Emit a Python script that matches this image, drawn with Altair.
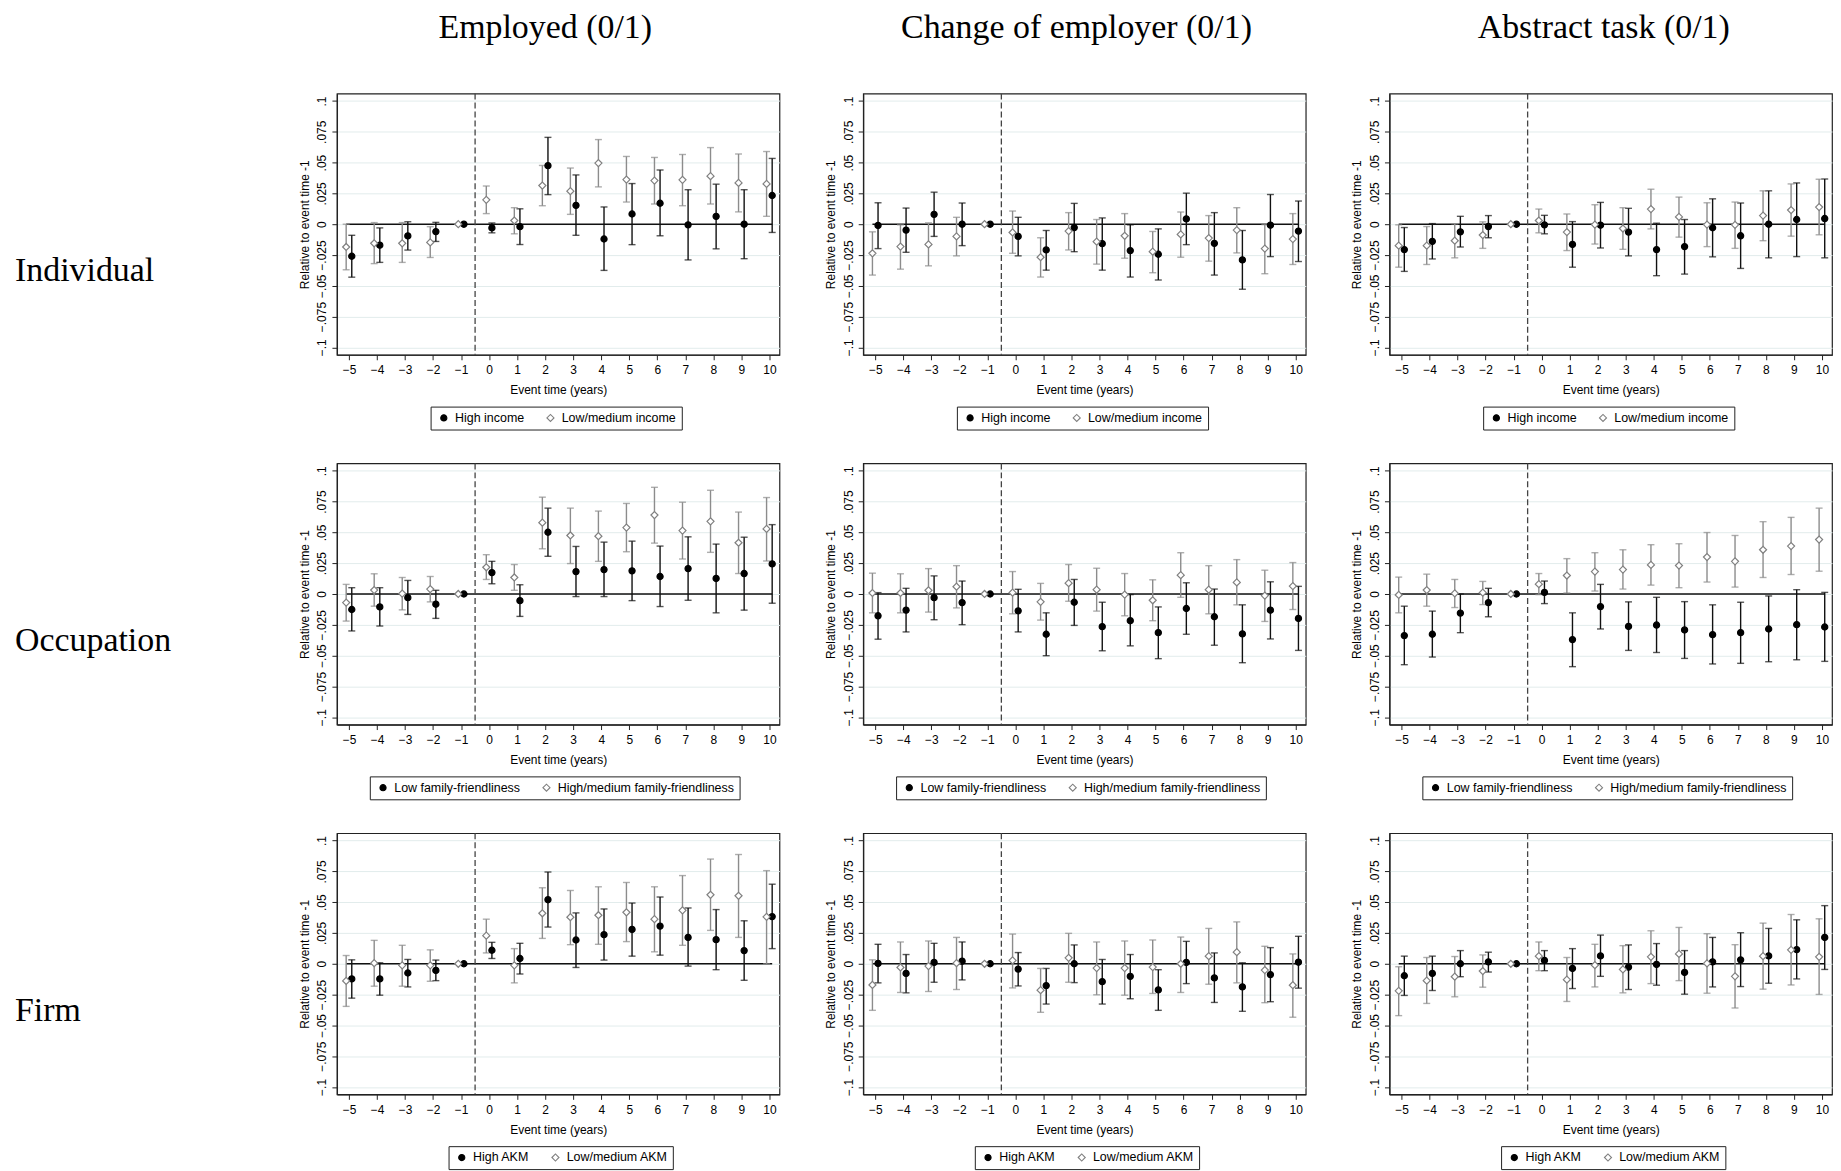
import altair as alt
import pandas as pd

event_time = list(range(-5, 11))
y_ticks = [-0.1, -0.075, -0.05, -0.025, 0, 0.025, 0.05, 0.075, 0.1]
col_titles = ["Employed (0/1)", "Change of employer (0/1)", "Abstract task (0/1)"]
row_labels = ["Individual", "Occupation", "Firm"]
legend_labels = [
    ["High income", "Low/medium income"],
    ["Low family-friendliness", "High/medium family-friendliness"],
    ["High AKM", "Low/medium AKM"],
]

# ---------------- Row 1: Individual ----------------
emp_ind_a_est = [-0.026, -0.017, -0.0095, -0.006, 0, -0.003, -0.002, 0.0475, 0.0153, -0.012, 0.0083, 0.017, -0.0005, 0.0064, 0.0, 0.0233]
emp_ind_a_lo = [-0.043, -0.031, -0.021, -0.014, 0, -0.007, -0.0165, 0.024, -0.009, -0.0375, -0.0166, -0.0094, -0.029, -0.020, -0.028, -0.0067]
emp_ind_a_hi = [-0.009, -0.003, 0.002, 0.0015, 0, 0.001, 0.0125, 0.0705, 0.040, 0.014, 0.033, 0.044, 0.028, 0.0325, 0.028, 0.0534]
emp_ind_b_est = [-0.0185, -0.0155, -0.0155, -0.0148, 0, 0.0198, 0.003, 0.0314, 0.0268, 0.0496, 0.0362, 0.0354, 0.036, 0.039, 0.0335, 0.0327]
emp_ind_b_lo = [-0.037, -0.032, -0.031, -0.027, 0, 0.0086, -0.0078, 0.015, 0.008, 0.0303, 0.018, 0.0164, 0.015, 0.0164, 0.010, 0.0064]
emp_ind_b_hi = [0.0, 0.0013, 0.0013, -0.002, 0, 0.031, 0.0134, 0.0477, 0.0456, 0.0687, 0.055, 0.0542, 0.0566, 0.0622, 0.057, 0.059]

chg_ind_a_est = [-0.001, -0.0048, 0.008, 0.0, 0, -0.0099, -0.0209, -0.0027, -0.0158, -0.0214, -0.0244, 0.0043, -0.0155, -0.029, -0.0008, -0.0056]
chg_ind_a_lo = [-0.0198, -0.0228, -0.0099, -0.0174, 0, -0.0257, -0.0373, -0.0223, -0.0373, -0.0429, -0.0453, -0.0166, -0.0413, -0.0528, -0.0263, -0.0303]
chg_ind_a_hi = [0.0174, 0.0131, 0.026, 0.0172, 0, 0.0056, -0.0051, 0.0169, 0.0051, -0.0005, -0.0038, 0.0252, 0.0094, -0.0051, 0.0241, 0.0188]
chg_ind_b_est = [-0.0236, -0.0182, -0.0164, -0.0099, 0, -0.0067, -0.0268, -0.0056, -0.0142, -0.0094, -0.0223, -0.0083, -0.0113, -0.0048, -0.0198, -0.0121]
chg_ind_b_lo = [-0.0413, -0.0365, -0.0338, -0.0257, 0, -0.0236, -0.0429, -0.0209, -0.0324, -0.0276, -0.0394, -0.0268, -0.030, -0.0233, -0.0402, -0.0327]
chg_ind_b_hi = [-0.0062, -0.0005, 0.0011, 0.0056, 0, 0.0107, -0.011, 0.0094, 0.0038, 0.0086, -0.0059, 0.0099, 0.007, 0.0134, -0.0003, 0.0086]

abs_ind_a_est = [-0.0206, -0.0139, -0.0062, -0.0019, 0, -0.0005, -0.0164, -0.0008, -0.0064, -0.0206, -0.0182, -0.0029, -0.0094, 0.0, 0.0038, 0.0046]
abs_ind_a_lo = [-0.0383, -0.0282, -0.0185, -0.011, 0, -0.0078, -0.0349, -0.0193, -0.0257, -0.0418, -0.0405, -0.0265, -0.0359, -0.0273, -0.0263, -0.0273]
abs_ind_a_hi = [-0.0027, 0.0005, 0.0064, 0.007, 0, 0.0072, 0.0021, 0.0177, 0.0129, 0.0008, 0.0038, 0.0206, 0.0172, 0.0271, 0.0335, 0.0367]
abs_ind_b_est = [-0.0174, -0.0174, -0.0134, -0.0088, 0, 0.003, -0.0064, -0.0003, -0.0035, 0.0123, 0.0059, -0.0003, -0.0005, 0.007, 0.0115, 0.0139]
abs_ind_b_lo = [-0.0349, -0.0327, -0.0273, -0.0196, 0, -0.007, -0.0214, -0.0161, -0.0204, -0.0038, -0.0105, -0.0182, -0.0196, -0.0134, -0.0097, -0.0086]
abs_ind_b_hi = [-0.0005, -0.0019, 0.0003, 0.0019, 0, 0.0123, 0.0083, 0.0158, 0.0134, 0.0284, 0.022, 0.0174, 0.018, 0.0271, 0.0327, 0.0365]

# ---------------- Row 2: Occupation ----------------
emp_occ_a_est = [-0.0126, -0.0105, -0.003, -0.0083, 0, 0.0174, -0.0054, 0.0501, 0.0182, 0.0198, 0.0188, 0.0142, 0.0206, 0.0126, 0.0166, 0.0244]
emp_occ_a_lo = [-0.030, -0.026, -0.0166, -0.0198, 0, 0.0083, -0.0182, 0.0306, -0.0021, -0.0021, -0.0054, -0.0102, -0.0051, -0.0153, -0.0131, -0.0075]
emp_occ_a_hi = [0.0051, 0.0051, 0.011, 0.003, 0, 0.0265, 0.0075, 0.0697, 0.0386, 0.0421, 0.0429, 0.0389, 0.0464, 0.0405, 0.0461, 0.0563]
emp_occ_b_est = [-0.007, 0.0032, 0.0003, 0.004, 0, 0.0217, 0.0134, 0.0579, 0.0475, 0.0469, 0.0539, 0.0641, 0.0515, 0.059, 0.0416, 0.0528]
emp_occ_b_lo = [-0.022, -0.0099, -0.0129, -0.0064, 0, 0.0118, 0.003, 0.0367, 0.0247, 0.0265, 0.0343, 0.0413, 0.0284, 0.0338, 0.0166, 0.0268]
emp_occ_b_hi = [0.0078, 0.0164, 0.0134, 0.0142, 0, 0.0319, 0.0239, 0.0786, 0.0697, 0.0673, 0.0735, 0.0866, 0.0745, 0.0842, 0.0665, 0.0783]

chg_occ_a_est = [-0.0177, -0.0131, -0.003, -0.007, 0, -0.0137, -0.0327, -0.0067, -0.0265, -0.0217, -0.0314, -0.0118, -0.0185, -0.0324, -0.0131, -0.0198]
chg_occ_a_lo = [-0.0367, -0.0308, -0.0209, -0.0249, 0, -0.0308, -0.0501, -0.0255, -0.0461, -0.0421, -0.0525, -0.0327, -0.0416, -0.0558, -0.0365, -0.0458]
chg_occ_a_hi = [0.0011, 0.0046, 0.0147, 0.0105, 0, 0.0038, -0.0153, 0.0118, -0.0067, -0.0005, -0.0105, 0.0091, 0.004, -0.0088, 0.0099, 0.0062]
chg_occ_b_est = [0.0008, 0.0008, 0.003, 0.0059, 0, 0.0011, -0.0064, 0.0088, 0.0035, -0.0005, -0.0051, 0.0153, 0.0035, 0.0094, -0.0013, 0.0064]
chg_occ_b_lo = [-0.0153, -0.0153, -0.0147, -0.0113, 0, -0.0161, -0.0212, -0.0059, -0.0139, -0.0177, -0.0217, -0.0027, -0.0161, -0.0088, -0.0223, -0.0126]
chg_occ_b_hi = [0.0169, 0.0164, 0.0206, 0.023, 0, 0.0182, 0.0086, 0.0239, 0.0209, 0.0166, 0.0115, 0.0335, 0.023, 0.0279, 0.0193, 0.0255]

abs_occ_a_est = [-0.0338, -0.0327, -0.0155, -0.007, 0, 0.0013, -0.037, -0.0102, -0.0263, -0.0252, -0.0292, -0.033, -0.0314, -0.0284, -0.0249, -0.0268]
abs_occ_a_lo = [-0.0574, -0.0512, -0.0314, -0.0185, 0, -0.0078, -0.059, -0.0284, -0.0458, -0.0475, -0.0523, -0.0568, -0.0563, -0.055, -0.0534, -0.0547]
abs_occ_a_hi = [-0.0099, -0.0139, 0.0, 0.0046, 0, 0.0105, -0.0153, 0.0078, -0.0064, -0.0027, -0.0062, -0.0088, -0.0067, -0.0016, 0.0035, 0.0013]
abs_occ_b_est = [-0.0008, 0.0032, 0.0005, 0.0011, 0, 0.008, 0.015, 0.0182, 0.0198, 0.0236, 0.0231, 0.030, 0.0265, 0.0359, 0.0389, 0.0442]
abs_occ_b_lo = [-0.0153, -0.0099, -0.011, -0.0086, 0, -0.0005, 0.0008, 0.0024, 0.004, 0.0072, 0.0051, 0.0097, 0.0056, 0.0134, 0.0158, 0.0185]
abs_occ_b_hi = [0.0137, 0.0161, 0.0118, 0.0102, 0, 0.0166, 0.0287, 0.0335, 0.0359, 0.040, 0.0408, 0.0499, 0.0475, 0.0587, 0.0622, 0.0697]

# ---------------- Row 3: Firm ----------------
emp_firm_a_est = [-0.0123, -0.0123, -0.0075, -0.0054, 0, 0.011, 0.0043, 0.052, 0.0193, 0.0236, 0.0279, 0.0306, 0.0214, 0.0196, 0.0107, 0.0383]
emp_firm_a_lo = [-0.0279, -0.0255, -0.0188, -0.0137, 0, 0.0043, -0.0083, 0.0298, -0.003, 0.003, 0.0062, 0.007, -0.0019, -0.0048, -0.0134, 0.0123]
emp_firm_a_hi = [0.0032, 0.0008, 0.0035, 0.003, 0, 0.0174, 0.0166, 0.0745, 0.0413, 0.0445, 0.0493, 0.0542, 0.0453, 0.044, 0.0349, 0.0646]
emp_firm_b_est = [-0.0139, 0.0005, -0.0013, -0.0013, 0, 0.0228, -0.0013, 0.041, 0.0378, 0.0394, 0.0418, 0.0362, 0.0434, 0.056, 0.0552, 0.0381]
emp_firm_b_lo = [-0.0346, -0.0182, -0.0182, -0.0142, 0, 0.0088, -0.0155, 0.0206, 0.0155, 0.0158, 0.018, 0.0097, 0.015, 0.0271, 0.0214, 0.0]
emp_firm_b_hi = [0.0067, 0.019, 0.015, 0.0113, 0, 0.0362, 0.0123, 0.0617, 0.0595, 0.0625, 0.066, 0.0625, 0.0716, 0.085, 0.0887, 0.0756]

chg_firm_a_est = [0.0003, -0.0078, 0.0011, 0.0021, 0, -0.0043, -0.0177, 0.0, -0.0145, -0.0102, -0.0212, 0.0011, -0.0115, -0.0188, -0.0088, 0.0013]
chg_firm_a_lo = [-0.0155, -0.0236, -0.015, -0.0131, 0, -0.018, -0.0327, -0.0153, -0.0327, -0.0284, -0.0378, -0.0161, -0.0314, -0.0386, -0.0308, -0.0198]
chg_firm_a_hi = [0.0158, 0.0075, 0.0166, 0.0177, 0, 0.0091, -0.0038, 0.0153, 0.0035, 0.0075, -0.0048, 0.0182, 0.0088, 0.0008, 0.0131, 0.0223]
chg_firm_b_est = [-0.0172, -0.003, -0.0019, 0.0005, 0, 0.0027, -0.0214, 0.0048, -0.0035, -0.0035, -0.0027, 0.0, 0.0062, 0.0094, -0.0051, -0.0174]
chg_firm_b_lo = [-0.0378, -0.0233, -0.0225, -0.0209, 0, -0.0196, -0.0394, -0.015, -0.0252, -0.0255, -0.0241, -0.0233, -0.0166, -0.0155, -0.0316, -0.0434]
chg_firm_b_hi = [0.0032, 0.0177, 0.0185, 0.0214, 0, 0.0241, -0.0038, 0.0247, 0.0177, 0.0185, 0.0193, 0.0217, 0.0287, 0.034, 0.0142, 0.008]

abs_firm_a_est = [-0.0097, -0.0078, 0.0, 0.0016, 0, 0.0027, -0.0038, 0.0064, -0.0027, -0.0005, -0.007, 0.0016, 0.0032, 0.0064, 0.0115, 0.0214]
abs_firm_a_lo = [-0.0257, -0.0217, -0.0105, -0.0067, 0, -0.0056, -0.0201, -0.0102, -0.0209, -0.0174, -0.0247, -0.0188, -0.0185, -0.0158, -0.0123, -0.0046]
abs_firm_a_hi = [0.0062, 0.0062, 0.0107, 0.0094, 0, 0.0107, 0.0123, 0.0233, 0.0153, 0.0164, 0.0107, 0.0214, 0.0252, 0.0287, 0.0357, 0.0472]
abs_firm_b_est = [-0.022, -0.0137, -0.0105, -0.0059, 0, 0.0062, -0.0129, -0.0011, -0.0046, 0.0056, 0.008, 0.0003, -0.0102, 0.0062, 0.0113, 0.0056]
abs_firm_b_lo = [-0.0421, -0.0322, -0.0268, -0.019, 0, -0.0056, -0.0306, -0.0188, -0.0236, -0.0161, -0.0137, -0.0239, -0.0359, -0.0206, -0.0172, -0.0249]
abs_firm_b_hi = [-0.0024, 0.0051, 0.0059, 0.0072, 0, 0.0177, 0.0051, 0.0158, 0.0147, 0.0268, 0.0295, 0.0244, 0.0155, 0.033, 0.04, 0.0365]

panel_data = {
    (0, 0): [(emp_ind_a_est, emp_ind_a_lo, emp_ind_a_hi), (emp_ind_b_est, emp_ind_b_lo, emp_ind_b_hi)],
    (0, 1): [(chg_ind_a_est, chg_ind_a_lo, chg_ind_a_hi), (chg_ind_b_est, chg_ind_b_lo, chg_ind_b_hi)],
    (0, 2): [(abs_ind_a_est, abs_ind_a_lo, abs_ind_a_hi), (abs_ind_b_est, abs_ind_b_lo, abs_ind_b_hi)],
    (1, 0): [(emp_occ_a_est, emp_occ_a_lo, emp_occ_a_hi), (emp_occ_b_est, emp_occ_b_lo, emp_occ_b_hi)],
    (1, 1): [(chg_occ_a_est, chg_occ_a_lo, chg_occ_a_hi), (chg_occ_b_est, chg_occ_b_lo, chg_occ_b_hi)],
    (1, 2): [(abs_occ_a_est, abs_occ_a_lo, abs_occ_a_hi), (abs_occ_b_est, abs_occ_b_lo, abs_occ_b_hi)],
    (2, 0): [(emp_firm_a_est, emp_firm_a_lo, emp_firm_a_hi), (emp_firm_b_est, emp_firm_b_lo, emp_firm_b_hi)],
    (2, 1): [(chg_firm_a_est, chg_firm_a_lo, chg_firm_a_hi), (chg_firm_b_est, chg_firm_b_lo, chg_firm_b_hi)],
    (2, 2): [(abs_firm_a_est, abs_firm_a_lo, abs_firm_a_hi), (abs_firm_b_est, abs_firm_b_lo, abs_firm_b_hi)],
}

# layout / style settings
PW, PH = 444, 262
legend_x = [94, 33, 112]
title_dx = [-13, -8, -7]
SANS = "Liberation Sans"
SERIF = "Liberation Serif"
GRID = "#e2ecec"
BLACK = "#111111"
GREY = "#8c8c8c"


def panel_frame(r, c):
    recs = []
    for k, (est, lo, hi) in enumerate(panel_data[(r, c)]):
        for t, e, l, h in zip(event_time, est, lo, hi):
            recs.append({"t": t, "series": legend_labels[r][k], "k": k, "est": e, "lo": l, "hi": h})
    return pd.DataFrame(recs)


def panel(r, c):
    labels = legend_labels[r]
    base = alt.Chart(panel_frame(r, c)).transform_calculate(
        xp="datum.t + (datum.k == 0 ? 0.1 : -0.1)",
        barcol="datum.k == 0 ? '%s' : '%s'" % (BLACK, GREY),
    )
    xs = alt.Scale(domain=[-5.43, 10.36], nice=False, zero=False)
    ys = alt.Scale(domain=[-0.106, 0.106], nice=False, zero=False)
    xax = alt.Axis(values=event_time, title="Event time (years)", grid=False, tickSize=5,
                   labelPadding=5, titlePadding=9, format="d", labelFlush=False)
    yax = alt.Axis(values=y_ticks, title="Relative to event time -1", grid=True, gridColor=GRID,
                   tickSize=5, labelAngle=270, labelAlign="center", labelBaseline="bottom",
                   labelPadding=3, titlePadding=5, labelFlush=False,
                   labelExpr="datum.value == 0 ? '0' : replace(format(datum.value, '.3~f'), '0.', '.')")
    X = alt.X("xp:Q", scale=xs, axis=xax)
    leg = alt.Legend(orient="none", legendX=legend_x[r], legendY=314, direction="horizontal",
                     strokeColor="#222222", padding=5, labelFontSize=12.5, labelFont=SANS,
                     labelLimit=0, columnPadding=18, labelOffset=5, symbolOffset=2,
                     symbolStrokeWidth=1.1)
    ecolor = alt.Color("barcol:N", scale=None)

    zero = alt.Chart(pd.DataFrame({"z": [0]})).mark_rule(color=BLACK, strokeWidth=1.5).encode(
        x=alt.X(datum=-5.1, scale=xs, axis=xax),
        x2=alt.datum(10.1),
        y=alt.Y(datum=0, scale=ys, axis=yax),
    )
    vline = alt.Chart(pd.DataFrame({"z": [0]})).mark_rule(color="#444444", strokeWidth=1.3, strokeDash=[6, 3]).encode(
        x=alt.X(datum=-0.5, scale=xs, axis=xax),
    )
    bars = base.mark_rule(strokeWidth=1.4).encode(
        x=X, y=alt.Y("lo:Q", scale=ys, axis=yax), y2="hi:Q", color=ecolor
    )
    cap_lo = base.mark_tick(orient="horizontal", size=7, thickness=1.4).encode(
        x=X, y=alt.Y("lo:Q", scale=ys, axis=yax), color=ecolor
    )
    cap_hi = base.mark_tick(orient="horizontal", size=7, thickness=1.4).encode(
        x=X, y=alt.Y("hi:Q", scale=ys, axis=yax), color=ecolor
    )
    pts = base.mark_point(opacity=1, strokeWidth=1.2).encode(
        x=X,
        y=alt.Y("est:Q", scale=ys, axis=yax),
        fill=alt.Fill("series:N", scale=alt.Scale(domain=labels, range=["#000000", "#ffffff"]), legend=leg, title=None),
        stroke=alt.Stroke("series:N", scale=alt.Scale(domain=labels, range=["#000000", "#808080"]), legend=leg, title=None),
        shape=alt.Shape("series:N", scale=alt.Scale(domain=labels, range=["circle", "diamond"]), legend=leg, title=None),
        size=alt.Size("series:N", scale=alt.Scale(domain=labels, range=[38, 50]), legend=leg, title=None),
    )
    layers = [zero, vline, bars, cap_lo, cap_hi, pts]
    if c == 0:
        lab = alt.Chart(pd.DataFrame({"label": [row_labels[r]]})).mark_text(
            font=SERIF, fontSize=34, align="left", baseline="middle", color="#000000"
        ).encode(text="label:N", x=alt.value(-323), y=alt.value(178))
        layers.append(lab)
    ch = alt.layer(*layers).properties(width=PW, height=PH)
    if r == 0:
        ch = ch.properties(title=alt.TitleParams(text=col_titles[c], font=SERIF, fontSize=34,
                                                 fontWeight="normal", color="#000000", offset=48,
                                                 anchor="middle", dx=title_dx[c]))
    return ch


indep = dict(fill="independent", stroke="independent", shape="independent", size="independent")

rows = []
for r in range(3):
    row = alt.hconcat(*[panel(r, c) for c in range(3)], spacing=43).resolve_scale(**indep)
    rows.append(row)

chart = alt.vconcat(*rows, spacing=30).resolve_scale(**indep).properties(
    padding={"left": 6, "top": 0, "right": 0, "bottom": 0},
    background="white",
).configure_view(
    stroke="#222222", strokeWidth=1.2
).configure_axis(
    labelFont=SANS, titleFont=SANS, labelFontSize=12, titleFontSize=12,
    titleFontWeight="normal", labelColor="#000000", titleColor="#000000",
    tickColor="#222222", domainColor="#222222", domainWidth=1.2, tickWidth=1
).configure_legend(
    labelFont=SANS, labelFontSize=12.5, labelColor="#000000"
)

chart.save("out.html", embed_options={"renderer": "svg", "actions": False})
